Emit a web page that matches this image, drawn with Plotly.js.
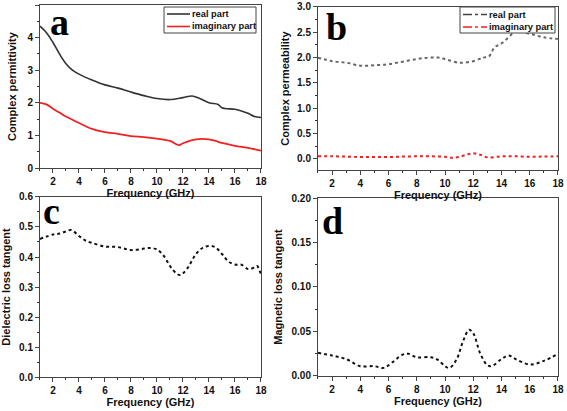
<!DOCTYPE html>
<html><head><meta charset="utf-8">
<script src="https://cdn.plot.ly/plotly-3.0.1.min.js"></script>
<style>html,body{margin:0;padding:0;background:#fff}#g{width:567px;height:411px}</style>
</head><body><div id="g"></div>
<script>
// Panel a: complex permittivity
const aRealF = [1,1.5,2,2.5,3,3.5,4,5,6,7,8,9,10,11,12,12.7,13.2,14,14.7,15,16,16.5,17,17.5,18];
const aRealV = [4.35,4.15,3.85,3.5,3.2,3.0,2.88,2.7,2.55,2.45,2.33,2.22,2.13,2.1,2.16,2.21,2.15,2.0,1.95,1.85,1.8,1.75,1.68,1.58,1.55];
const aImagF = [1,1.5,2,2.5,3,4,5,6,7,8,9,10,11,11.7,12,13,14,14.5,15,16,17,18];
const aImagV = [2.0,1.95,1.82,1.7,1.58,1.38,1.2,1.1,1.05,0.98,0.95,0.9,0.83,0.7,0.76,0.88,0.88,0.83,0.77,0.68,0.62,0.53];
// Panel b: complex permeability
const bRealF = [1,2,3,4,5,6,7,8,8.8,9.5,10,11,12,12.7,13.1,13.5,14,14.5,15,16,17,18];
const bRealV = [2.0,1.93,1.9,1.84,1.85,1.87,1.92,1.97,2.0,2.0,1.97,1.9,1.93,2.0,2.02,2.2,2.28,2.4,2.52,2.47,2.4,2.37];
const bImagF = [1,2,3,4,5,6,7,8,9,10,10.5,11,11.5,12,12.5,13,14,15,16,17,18];
const bImagV = [0.05,0.05,0.045,0.035,0.035,0.035,0.045,0.05,0.05,0.04,0.02,0.04,0.08,0.11,0.08,0.03,0.05,0.05,0.04,0.045,0.05];
// Panel c: dielectric loss tangent
const cF = [1,2,2.5,3,3.4,4,4.5,5,6,7,8,9,9.5,10,10.5,11,11.5,11.8,12.3,13,13.5,14,14.5,15,15.5,16,16.5,17,17.5,17.7,18];
const cV = [0.46,0.475,0.478,0.485,0.49,0.47,0.455,0.447,0.435,0.433,0.423,0.428,0.43,0.425,0.405,0.37,0.345,0.34,0.36,0.41,0.43,0.437,0.432,0.41,0.385,0.375,0.374,0.36,0.365,0.37,0.34];
// Panel d: magnetic loss tangent
const dF = [1,2,3,4,5,5.6,6,7,7.4,8,9,9.5,10,10.3,10.8,11.3,11.7,12,12.5,13,13.3,14,14.5,15,16,17,18];
const dV = [0.026,0.023,0.019,0.011,0.011,0.009,0.012,0.024,0.025,0.021,0.021,0.018,0.011,0.009,0.018,0.04,0.052,0.048,0.025,0.012,0.011,0.019,0.023,0.019,0.013,0.017,0.025];
const legendNames = ['real part', 'imaginary part'];
const panelLetters = ['a', 'b', 'c', 'd'];

const W = 567, H = 411;
const px = v => v / W, py = v => 1 - v / H;
const FF = 'Liberation Sans, Arial, sans-serif';
const tf = {family: FF, size: 10, color: '#111', weight: 'bold'};
const titf = {family: FF, size: 11, color: '#111', weight: 'bold'};
const RED = '#f22020', DARK = '#333333';

function xax(dom, anchor) {
  return {domain: dom, anchor: anchor, range: [1, 18], tick0: 0, dtick: 2, ticks: 'outside', ticklen: 4,
    minor: {dtick: 1, ticks: 'outside', ticklen: 2, tickcolor: '#333'},
    showline: true, mirror: true, linecolor: '#444', linewidth: 1, showgrid: false, zeroline: false,
    tickfont: tf, title: {text: 'Frequency (GHz)', font: titf, standoff: 3}};
}
function yax(dom, anchor, range, dtick, minor, fmt, title, standoff) {
  return {domain: dom, anchor: anchor, range: range, dtick: dtick, tick0: 0, ticks: 'outside', ticklen: 4,
    minor: {dtick: minor, ticks: 'outside', ticklen: 2, tickcolor: '#333'}, tickformat: fmt,
    showline: true, mirror: true, linecolor: '#444', linewidth: 1, showgrid: false, zeroline: false,
    tickfont: tf, title: {text: title, font: titf, standoff: standoff}};
}

const data = [
  {x: aRealF, y: aRealV, xaxis: 'x', yaxis: 'y', name: legendNames[0], mode: 'lines', showlegend: false, line: {color: DARK, width: 1.6, shape: 'spline'}},
  {x: aImagF, y: aImagV, xaxis: 'x', yaxis: 'y', name: legendNames[1], mode: 'lines', showlegend: false, line: {color: RED, width: 1.8, shape: 'spline'}},
  {x: bRealF, y: bRealV, xaxis: 'x2', yaxis: 'y2', name: legendNames[0], mode: 'lines', showlegend: false, line: {color: '#666', width: 2, dash: 'dot', shape: 'spline'}},
  {x: bImagF, y: bImagV, xaxis: 'x2', yaxis: 'y2', name: legendNames[1], mode: 'lines', showlegend: false, line: {color: RED, width: 2, dash: 'dot', shape: 'spline'}},
  {x: cF, y: cV, xaxis: 'x3', yaxis: 'y3', mode: 'lines', showlegend: false, line: {color: '#111', width: 2, dash: 'dot', shape: 'spline'}},
  {x: dF, y: dV, xaxis: 'x4', yaxis: 'y4', mode: 'lines', showlegend: false, line: {color: '#111', width: 2, dash: 'dot', shape: 'spline'}}
];

// custom compact legends (box, line samples, labels)
const shapes = [];
const annotations = [];
function legendBox(x0, x1, y0, y1, sx0, sx1, rows, colors, dash) {
  shapes.push({type: 'rect', xref: 'paper', yref: 'paper', x0: px(x0), x1: px(x1), y0: py(y1), y1: py(y0),
    line: {color: '#444', width: 1}, fillcolor: '#fff', layer: 'above'});
  rows.forEach((ry, i) => {
    shapes.push({type: 'line', xref: 'paper', yref: 'paper', x0: px(sx0), x1: px(sx1), y0: py(ry), y1: py(ry),
      line: {color: colors[i], width: 1.6, dash: dash}, layer: 'above'});
    annotations.push({text: legendNames[i], xref: 'paper', yref: 'paper', x: px(sx1 + 1), y: py(ry),
      xanchor: 'left', yanchor: 'middle', borderpad: 0, showarrow: false,
      font: {family: FF, size: 9.3, color: '#111', weight: 'bold'}});
  });
}
legendBox(164, 256, 7, 33, 167, 190, [14, 26.5], [DARK, RED], 'solid');
legendBox(460, 555, 7, 33, 463, 487, [14.5, 27], ['#444', RED], 'dashdot');

const letterFont = {family: 'Liberation Serif, Times New Roman, serif', size: 38, color: '#000', weight: 'bold'};
const letterPos = [[49, 35], [325, 40], [42, 224], [321, 234]];
letterPos.forEach((p, i) => {
  annotations.push({text: panelLetters[i], xref: 'paper', yref: 'paper', x: px(p[0]), y: py(p[1]),
    xanchor: 'left', yanchor: 'bottom', yshift: -9, borderpad: 0, showarrow: false, font: letterFont});
});

const layout = {
  width: W, height: H, margin: {l: 0, r: 0, t: 0, b: 0}, paper_bgcolor: '#fff', plot_bgcolor: '#fff',
  showlegend: false,
  xaxis: xax([0.0705, 0.4603], 'y'),
  yaxis: yax([0.5912, 0.9878], 'x', [0, 5], 1, 0.5, 'd', 'Complex permittivity', 8),
  xaxis2: xax([0.5608, 0.9841], 'y2'),
  yaxis2: yax([0.5864, 0.983], 'x2', [-0.22, 3.0], 0.5, 0.25, '.1f', 'Complex permeability', 5),
  xaxis3: xax([0.0705, 0.4603], 'y3'),
  yaxis3: yax([0.0827, 0.5207], 'x3', [0, 0.6], 0.1, 0.05, '.1f', 'Dielectric loss tangent', 7),
  xaxis4: xax([0.5608, 0.9841], 'y4'),
  yaxis4: yax([0.0852, 0.5182], 'x4', [0, 0.2], 0.05, 0.025, '.2f', 'Magnetic loss tangent', 6),
  shapes: shapes,
  annotations: annotations
};

Plotly.newPlot('g', data, layout, {displayModeBar: false, staticPlot: true});
</script>
</body></html>
